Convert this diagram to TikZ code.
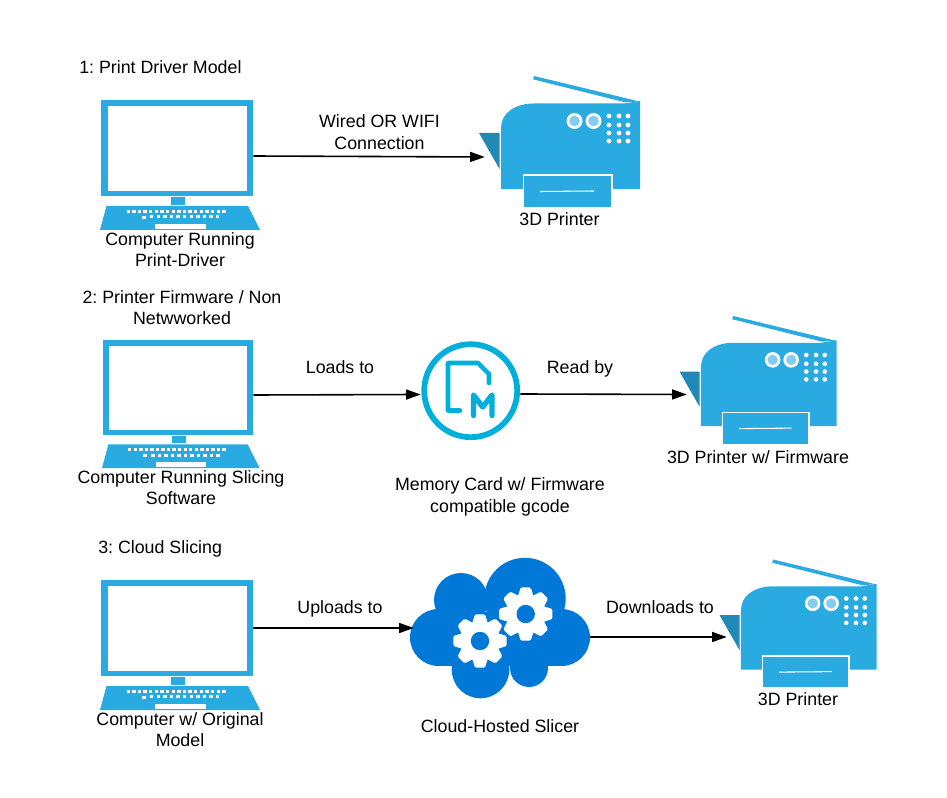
\documentclass[tikz,border=0pt]{standalone}
\usepackage{fontspec}
\setmainfont{Liberation Sans}
\usetikzlibrary{arrows.meta}
\definecolor{iconblue}{HTML}{29ABE2}
\definecolor{icondark}{HTML}{2089B5}
\definecolor{iconlight}{HTML}{85CDF0}
\definecolor{cardblue}{HTML}{00B0DA}
\definecolor{cloudblue}{HTML}{0078D7}
\tikzset{
  x=0.75pt,y=-0.75pt,
  lbl/.style={font=\fontsize{13.35}{16}\selectfont\frenchspacing,align=center,inner sep=0pt,text=black},
  port/.style={inner sep=0pt,minimum size=0pt},
  conn/.style={draw=black,line width=1.2pt,-{Triangle[length=11pt,width=7.5pt]}},
  laptop/.pic={
    \fill[iconblue] (0,0) rectangle (152,96);
    \fill[white] (6.5,5.7) rectangle (146,91);
    \fill[iconblue] (70,97) rectangle (84,105);
    \fill[iconblue] (5.5,106) -- (147,106) -- (159,130) -- (-1,130) -- cycle;
    \foreach \k in {0,...,17} {\fill[white] (25.5+5.63*\k,110) rectangle ++(3.4,3);}
    \foreach \k in {0,...,10} {\fill[white] (49+\k*6.6,115.3) rectangle ++(3.4,3);}
    \fill[white] (41,116) rectangle ++(3.6,3);
    \fill[white] (53.5,124) rectangle (105,129);
  },
  printer/.pic={
    \fill[icondark] (-21,57) -- (-0.5,57) -- (-0.5,93) -- cycle;
    \fill[iconblue] (33,3.3) -- (34,0) -- (139.5,25.5) -- (125,26.3) -- cycle;
    \fill[iconblue] (1,113) -- (1,52) .. controls (1,37) and (15,27.5) .. (34,27.5)
      -- (124,27.5) -- (140,25) -- (140,113) -- cycle;
    \foreach \x in {74.5,93.5} {
      \fill[white] (\x,45) circle[radius=8];
      \fill[iconlight] (\x,45) circle[radius=5.3];
    }
    \foreach \x in {109,119,128} \foreach \y in {40,49,57,65} {
      \fill[white] (\x,\y) circle[radius=2.4];
    }
    \fill[white] (23,98) rectangle (113,131);
    \fill[iconblue] (24,100) rectangle (111,131);
    \draw[white,line width=0.8pt] (40,115.5) -- (94,115);
  },
  gearicon/.pic={
    \fill[white] (0,0) circle[radius=20];
    \foreach \a in {0,45,...,315} {
      \fill[white,rotate=\a,rounded corners=1pt] (-8,-17) -- (-5,-26.7) -- (5,-26.7) -- (8,-17) -- cycle;
    }
    \fill[cloudblue] (0,0) circle[radius=9.2];
  }
}
\begin{document}
\begin{tikzpicture}
\useasboundingbox (0,0) rectangle (947,798);
\fill[white] (0,0) rectangle (947,798);

% row 1
\pic at (101,100) {laptop};
\pic at (500,76) {printer};
\node[port] (lapA) at (253,156) {};
\node[port] (prnA) at (485,157) {};
\draw[conn] (lapA) -- (prnA);
\node[lbl,anchor=west] (t1) at (79,67) {1: Print Driver Model};
\node[lbl] (t2) at (379.5,132) {Wired OR WIFI\\Connection};
\node[lbl] (t3) at (559.5,219) {3D Printer};
\node[lbl] (t4) at (180,249.5) {Computer Running\\Print-Driver};

% row 2
\pic[scale=0.985] at (103,340) {laptop};
\pic[scale=0.975] at (700,316) {printer};
\fill[white] (470.7,390.7) circle[radius=46];
\draw[cardblue,line width=4.3pt] (470.7,390.7) circle[radius=46.5];
\draw[cardblue,line width=3.4pt,line cap=round,line join=round]
  (460,410.5) -- (448,410.5) -- (448,363) -- (478,363) -- (489,374) -- (489,383);
\draw[cardblue,line width=4pt,line cap=round,line join=round]
  (473.5,415.5) -- (473.5,395) -- (482.7,407) -- (492,395) -- (492,415.5);
\node[port] (lapB) at (253,395) {};
\node[port] (cardIn) at (421,394.5) {};
\node[port] (cardOut) at (520,394) {};
\node[port] (prnB) at (687,394.5) {};
\draw[conn] (lapB) -- (cardIn);
\draw[conn] (cardOut) -- (prnB);
\node[lbl] (t5) at (182,307.5) {2: Printer Firmware / Non\\Netwworked};
\node[lbl] (t6) at (340,367) {Loads to};
\node[lbl] (t7) at (580,369) {Read by};
\node[lbl] (t8) at (758,457) {3D Printer w/ Firmware};
\node[lbl] (t9) at (181,487.5) {Computer Running Slicing\\Software};
\node[lbl] (t10) at (500,497) {Memory Card w/ Firmware\\compatible gcode};

% row 3
\pic at (101,580) {laptop};
\pic[scale=0.975] at (740,559.5) {printer};
\fill[cloudblue] (525,598.5) circle[radius=40.7];
\fill[cloudblue] (461,600) circle[radius=27];
\fill[cloudblue] (438.5,637.5) circle[radius=28.5];
\fill[cloudblue] (561.5,637.5) circle[radius=28.5];
\fill[cloudblue] (480.5,669.5) circle[radius=28.8];
\fill[cloudblue] (529,668) circle[radius=19];
\fill[cloudblue] (440,612) rectangle (560,666);
\pic at (480,641) {gearicon};
\pic at (525.7,614) {gearicon};
\node[port] (lapC) at (253,628) {};
\node[port] (cloudIn) at (414,628) {};
\node[port] (cloudOut) at (590,637) {};
\node[port] (prnC) at (727,637) {};
\draw[conn] (lapC) -- (cloudIn);
\draw[conn] (cloudOut) -- (prnC);
\node[lbl,anchor=west] (t11) at (98,549) {3: Cloud Slicing};
\node[lbl] (t12) at (340,609) {Uploads to};
\node[lbl] (t13) at (660,607) {Downloads to};
\node[lbl] (t14) at (180,729.5) {Computer w/ Original\\Model};
\node[lbl] (t15) at (500,726) {Cloud-Hosted Slicer};
\node[lbl] (t16) at (798,699) {3D Printer};
\end{tikzpicture}
\end{document}
